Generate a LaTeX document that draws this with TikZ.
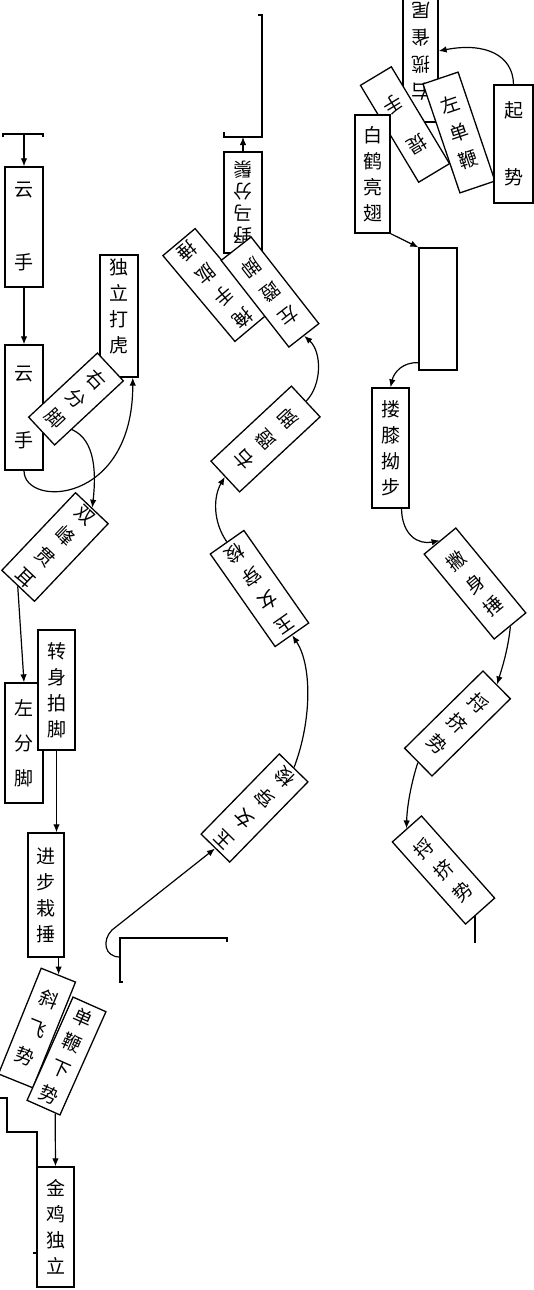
\documentclass[tikz,border=0pt]{standalone}
\usepackage{fontspec}
\newfontfamily\cjk{Noto Sans CJK SC}
\usetikzlibrary{arrows.meta,calc,backgrounds}
\begin{document}
\begin{tikzpicture}[x=1pt,y=-1pt,
  bx/.style={draw,line width=1.3pt,fill=white,inner sep=0pt,align=center,font=\cjk\fontsize{19}{26}\selectfont},
  ln/.style={line width=1.2pt},
  ar/.style={line width=1.2pt,-{Latex[length=8pt,width=6.5pt]}}]
\useasboundingbox (0,0) rectangle (534,1290);
% ---------- left column ----------
\node[bx,minimum width=38,minimum height=120] (yun1) at (24,227) {云\\[47pt]手};
\node[bx,minimum width=38,minimum height=125] (yun2) at (24,407.5) {云\\[41pt]手};
\node[bx,minimum width=38,minimum height=122] (dldh) at (119,316) {独\\立\\打\\虎\\[-6pt]\mbox{}};
\node[bx,rotate=-47,minimum width=38,minimum height=94] (yfj) at (76,399) {右\\[2pt]分\\[2pt]脚};
\node[bx,rotate=-43.5,minimum width=45,minimum height=107] (sfge) at (55,547) {双\\[3pt]峰\\[3pt]贯\\[3pt]耳};
\node[bx,minimum width=38,minimum height=120] (zfj) at (24,743) {左\\[9pt]分\\[9pt]脚};
\node[bx,minimum width=37,minimum height=120] (zspj) at (56.5,690) {转\\身\\拍\\脚};
\node[bx,minimum width=36,minimum height=124] (jbzc) at (46,895) {进\\步\\栽\\捶};
\node[bx,rotate=-22,minimum width=37,minimum height=114] (xfs) at (37,1028) {斜\\[5pt]飞\\[5pt]势};
\node[bx,rotate=-24,minimum width=36,minimum height=113] (dbxs) at (66.5,1056) {单\\[2pt]鞭\\[2pt]下\\[2pt]势};
\node[bx,minimum width=37,minimum height=120] (jjdl) at (55.5,1227) {金\\鸡\\独\\立};
% ---------- middle column ----------
\node[bx,rotate=180,minimum width=38,minimum height=101] (F) at (243,202.5) {野\\[-4pt]马\\[-4pt]分\\[-4pt]鬃};
\node[bx,rotate=-140,minimum width=42,minimum height=112] (E) at (215,285) {掩\\[3pt]手\\[3pt]肱\\[3pt]捶};
\node[bx,rotate=-142,minimum width=38,minimum height=110] (D) at (270,292) {左\\[4pt]蹬\\[4pt]脚};
\node[bx,rotate=133,minimum width=42,minimum height=110] (C) at (265.5,439) {右\\[4pt]蹬\\[4pt]脚};
\node[bx,rotate=-145,minimum width=41,minimum height=113] (B) at (259.5,588.5) {玉\\[3pt]女\\[3pt]穿\\[3pt]梭};
\node[bx,rotate=135.7,minimum width=40,minimum height=112] (A) at (254.5,808) {玉\\[3pt]女\\[3pt]穿\\[3pt]梭};
% ---------- right column ----------
\node[bx,rotate=180,minimum width=35,minimum height=142] (lqw) at (420.5,51) {右\\[1pt]揽\\[1pt]雀\\[1pt]尾};
\node[bx,rotate=-149,minimum width=36,minimum height=113] (ts) at (405,124.5) {提\\[20pt]手};
\node[bx,rotate=18.7,minimum width=37,minimum height=115] (ldb) at (459,132.5) {左\\[3pt]单\\[3pt]鞭};
\node[bx,minimum width=35,minimum height=118] (bhlc) at (372.5,174) {白\\鹤\\亮\\翅};
\node[bx,minimum width=39,minimum height=118] (qs) at (513.5,144) {起\\[41pt]势};
\node[bx,minimum width=38,minimum height=122] (blank) at (438,309) {};
\node[bx,minimum width=37,minimum height=120] (llab) at (390.5,448) {搂\\膝\\拗\\步};
\node[bx,rotate=39.5,minimum width=41,minimum height=110] (psc) at (475,583.5) {撇\\[3pt]身\\[3pt]捶};
\node[bx,rotate=-45.4,minimum width=39,minimum height=110] (ljs1) at (457.5,723.5) {捋\\[3pt]挤\\[3pt]势};
\node[bx,rotate=41.7,minimum width=39,minimum height=110] (ljs2) at (443.5,870) {捋\\[3pt]挤\\[3pt]势};
% ---------- connectors ----------
\begin{scope}[on background layer]
\fill[white] (0,0) rectangle (534,1290);
% left
\draw[ln] (3,137)--(3,134)--(43,134)--(43,137);
\coordinate (t1) at (24,134);
\draw[ar] (t1) -- (yun1.north);
\draw[ar] (yun1.south) -- (yun2.north);
\draw[ar] (yun2.south) .. controls (24,508) and (133,505) .. ($(dldh.south)!0.7!(dldh.south east)$);
\draw[ar] ($(yfj.north east)!0.75!(yfj.south east)$) .. controls (96,440) and (96,475) .. (sfge.north);
\draw[ar] (sfge.south) -- (zfj.north);
\draw[ar] (zspj.south) -- (zspj.south |- jbzc.north);
\draw[ar] (xfs.north |- jbzc.south) -- (xfs.north);
\draw[ar] ($(dbxs.south)!0.7!(dbxs.south east)$) -- (jjdl.north);
\draw[ln] (0,1098)--(7,1098)--(7,1132)--(37,1132)--(37,1253)--(33,1253);
% middle
\draw[ln] (224,132)--(224,137)--(262,137)--(262,15)--(258,15);
\coordinate (tb) at (243,137);
\draw[ar] (F.south) -- (tb);
\draw[ln] (123,982)--(120,982)--(120,938)--(227,938)--(227,942);
\coordinate (mb) at (120,957);
\draw[ar] (mb) .. controls (104,957) and (102,940) .. (112,930) -- (A.north);
\draw[ar] (A.south) .. controls (312,720) and (312,665) .. (B.north);
\draw[ar] (B.south) .. controls (213,522) and (213,497) .. (C.north);
\draw[ar] (C.south) .. controls (322,385) and (322,352) .. (D.north);
% right
\draw[ar] (qs.north) .. controls (513,55) and (485,42) .. (lqw.west);
\draw[ar] (bhlc.south east) -- (blank.north west);
\draw[ar] ($(blank.south west)+(0,-8)$) .. controls (403,362) and (394,372) .. (llab.north);
\draw[ar] ($(llab.south)+(11,0)$) .. controls (402,535) and (418,545) .. (psc.north);
\draw[ar] (psc.south) .. controls (508,650) and (502,668) .. (ljs1.north);
\draw[ar] (ljs1.south) .. controls (412,780) and (407,805) .. (ljs2.north);
\coordinate (e1) at (475,943);
\draw[ln] (e1 |- ljs2.south) -- (e1);
\end{scope}
\end{tikzpicture}
\end{document}
